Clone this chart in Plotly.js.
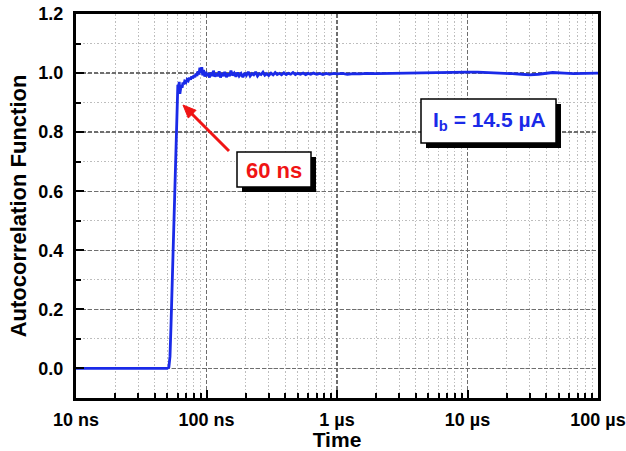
<!DOCTYPE html>
<html>
<head>
<meta charset="utf-8">
<script src="https://cdn.plot.ly/plotly-3.0.1.min.js"></script>
<style>html,body{margin:0;padding:0;background:#fff;}#chart{width:626px;height:451px;}</style>
</head>
<body>
<div id="chart"></div>
<script>
// Lag time in nanoseconds
const timeNs = [10,15,20,25,30,35,40,45,50,51.5,52.5,53.5,54.5,55.5,56.5,57.5,58.5,59.3,59.8,60.3,61,61.8,62.5,63.2,64,65,66,67,68,69.5,71,72.5,74,75.5,77,78.5,80,81.5,83,84.5,86,87.5,89,90.5,92,93.5,95,97,99,101,103,105.5,108,110.5,113,116,119,122,125,128,131,134.5,138,142,146,150,154,158,163,168,173,178,184,190,196,202,209,216,223,230,238,246,254,262,271,280,290,300,312,324,336,348,362,376,392,408,425,442,460,480,500,525,550,575,600,630,660,700,740,780,830,880,940,1000,1100,1200,1350,1500,1700,2000,2500,3000,4000,5000,6500,8000,10000,12000,15000,18000,22000,26000,30000,35000,40000,45000,55000,65000,80000,100000];
// Autocorrelation function values
const acf = [0,0,0.001,-0.001,0,0.001,0,0,0,0.005,0.04,0.15,0.28,0.40,0.52,0.65,0.77,0.87,0.92,0.96,0.945,0.97,0.93,0.955,0.96,0.95,0.968,0.962,0.972,0.968,0.978,0.974,0.984,0.978,0.988,0.982,0.992,0.986,0.998,0.99,1.006,0.995,1.018,1.0,1.02,0.992,1.01,0.988,1.004,0.99,1.0,0.985,1.002,0.99,1.008,0.988,0.998,0.99,1.006,0.985,1.0,0.99,1.004,0.986,0.998,0.99,1.008,0.992,1.0,0.988,1.002,0.99,0.998,0.986,1.0,0.992,1.004,0.99,0.998,0.994,1.004,0.99,0.998,0.995,1.003,0.993,0.998,0.992,1.0,0.994,1.002,0.995,0.999,0.994,1.001,0.995,0.999,0.996,1.002,0.995,0.999,0.996,1.0,0.995,0.999,0.996,1.0,0.996,0.999,0.995,0.999,0.996,0.999,0.997,0.999,0.996,0.998,0.997,0.999,0.998,0.999,0.999,1.0,1.001,1.002,1.003,1.003,1.003,1.002,1.0,0.998,0.996,0.994,0.996,0.999,1.002,1.0,0.998,0.999,1.0];

const xTickVals = [1e-8,1e-7,1e-6,1e-5,1e-4];
const xTickText = ['10 ns','100 ns','1 µs','10 µs','100 µs'];
const yTickVals = [0,0.2,0.4,0.6,0.8,1.0,1.2];
const yTickText = ['0.0','0.2','0.4','0.6','0.8','1.0','1.2'];

const xMinor = [];
for (let d = -8; d < -4; d++) for (let k = 2; k <= 9; k++) xMinor.push(k * Math.pow(10, d));

const xs = timeNs.map(t => t * 1e-9);
const FONT = 'Arial, "Liberation Sans", sans-serif';
const RED = '#f01414', BLUE = '#1a2ae8';

const trace = {
  x: xs, y: acf, type: 'scatter', mode: 'lines',
  line: {color: BLUE, width: 2.8}, hoverinfo: 'skip'
};

const PL = 76, PR = 598, PT = 14, PB = 398;
const PW = PR - PL, PH = PB - PT;
const px = v => (v - PL) / PW;
const py = v => (PB - v) / PH;

function box(x0, y0, x1, y1, off) {
  return [
    {type:'rect', xref:'paper', yref:'paper', x0:px(x0+off), x1:px(x1+off), y0:py(y1+off), y1:py(y0+off),
     fillcolor:'#000', line:{width:0}, layer:'above'},
    {type:'rect', xref:'paper', yref:'paper', x0:px(x0), x1:px(x1), y0:py(y1), y1:py(y0),
     fillcolor:'#fff', line:{color:'#000', width:1.5}, layer:'above'}
  ];
}

// arrow (pixel positions of the callout)
const tail = [229, 151], tip = [183, 105];
const dx = tip[0] - tail[0], dy = tip[1] - tail[1];
const L = Math.hypot(dx, dy), ux = dx / L, uy = dy / L;
const headLen = 13, headHalf = 5.5;
const bx = tip[0] - ux * headLen, by = tip[1] - uy * headLen;
const c1 = [bx - uy * headHalf, by + ux * headHalf], c2 = [bx + uy * headHalf, by - ux * headHalf];
const P = p => px(p[0]).toFixed(5) + ',' + py(p[1]).toFixed(5);
const arrowShapes = [
  {type:'line', xref:'paper', yref:'paper', x0:px(tail[0]), y0:py(tail[1]), x1:px(bx + ux*2), y1:py(by + uy*2),
   line:{color:RED, width:3}, layer:'above'},
  {type:'path', xref:'paper', yref:'paper', path:'M' + P(tip) + ' L' + P(c1) + ' L' + P(c2) + ' Z',
   fillcolor:RED, line:{color:RED, width:1}, layer:'above'}
];

const GRIDMAJ = {gridcolor: '#6e6e6e', gridwidth: 1.4, griddash: '4px,2px'};
const GRIDMIN = {gridcolor: '#bdbdbd', gridwidth: 1, griddash: '1.5px,2px'};

const layout = {
  width: 626, height: 451,
  margin: {l: PL, r: 626 - PR, t: PT, b: 451 - PB},
  paper_bgcolor: '#fff', plot_bgcolor: '#fff',
  showlegend: false,
  font: {family: FONT, color: '#000'},
  xaxis: Object.assign({
    type: 'log', range: [-8, -4],
    tickvals: xTickVals, ticktext: xTickText,
    tickfont: {family: FONT, size: 18, color: '#000', weight: 'bold'},
    ticks: 'inside', ticklen: 8, tickwidth: 2, tickcolor: '#000',
    showline: true, linecolor: '#000', linewidth: 3, mirror: true,
    showgrid: true, zeroline: false, ticklabelstandoff: 3,
    minor: Object.assign({tickvals: xMinor, ticks: 'inside', ticklen: 5, tickwidth: 2, tickcolor: '#000', showgrid: true}, GRIDMIN),
    title: {text: 'Time', font: {family: FONT, size: 21, color: '#000', weight: 'bold'}, standoff: 1}
  }, GRIDMAJ),
  yaxis: Object.assign({
    range: [-0.1, 1.2],
    tickvals: yTickVals, ticktext: yTickText,
    tickfont: {family: FONT, size: 18, color: '#000', weight: 'bold'},
    ticks: 'inside', ticklen: 8, tickwidth: 2, tickcolor: '#000',
    showline: true, linecolor: '#000', linewidth: 3, mirror: true,
    showgrid: true, zeroline: false, ticklabelstandoff: 6,
    minor: Object.assign({dtick: 0.1, tick0: 0, ticks: 'inside', ticklen: 5, tickwidth: 2, tickcolor: '#000', showgrid: true}, GRIDMIN),
    title: {text: 'Autocorrelation Function', font: {family: FONT, size: 22, color: '#000', weight: 'bold'}, standoff: 6}
  }, GRIDMAJ),
  shapes: [].concat(box(237, 152, 311, 187, 5), box(421, 99, 556, 143, 5), arrowShapes),
  annotations: [
    {xref:'paper', yref:'paper', x: px(274), y: py(170), text: '60 ns', showarrow: false,
     font: {family: FONT, size: 22, color: RED, weight: 'bold'}, xanchor:'center', yanchor:'middle'},
    {xref:'paper', yref:'paper', x: px(489), y: py(121), text: 'I<sub>b</sub> = 14.5 µA', showarrow: false,
     font: {family: FONT, size: 21, color: BLUE, weight: 'bold'}, xanchor:'center', yanchor:'middle'}
  ]
};

Plotly.newPlot('chart', [trace], layout, {displayModeBar: false, staticPlot: true});
</script>
</body>
</html>
